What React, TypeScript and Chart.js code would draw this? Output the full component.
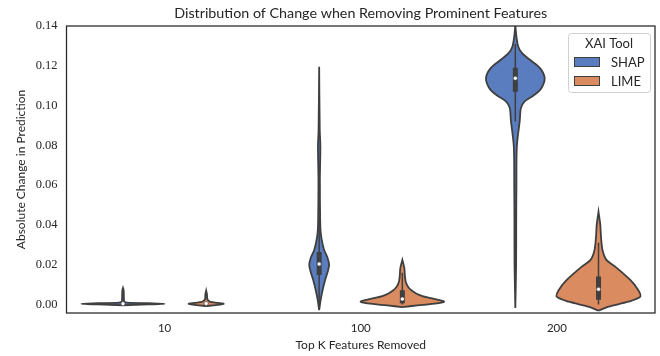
import React, { useEffect, useRef } from 'react';
import { Chart, registerables } from 'chart.js';
Chart.register(...registerables);

// ---------- data ----------
const chartTitle = 'Distribution of Change when Removing Prominent Features';
const categories = ['10', '100', '200'];
const hues = ['SHAP', 'LIME'];
const yTicks = [0, 0.02, 0.04, 0.06, 0.08, 0.1, 0.12, 0.14];

// violin profiles: values (y) and relative density (0..1, 1 = widest violin)
const shap10Y = [-0.0004, 0.0, 0.0003, 0.0006, 0.0009, 0.0015, 0.003, 0.005, 0.0072, 0.0083];
const shap10D = [0, 0.6, 1.0, 0.6, 0.1, 0.03, 0.022, 0.02, 0.015, 0];
const lime10Y = [-0.0008, -0.0003, 0.0003, 0.0008, 0.0013, 0.002, 0.003, 0.005, 0.0069];
const lime10D = [0, 0.24, 0.42, 0.29, 0.1, 0.05, 0.024, 0.02, 0];
const shap100Y = [-0.0028, 0.0023, 0.0073, 0.0123, 0.0163, 0.0198, 0.0234, 0.0274, 0.0314, 0.0364, 0.0425, 0.0626, 0.0796, 0.0877, 0.1195];
const shap100D = [0, 0.036, 0.083, 0.143, 0.202, 0.238, 0.202, 0.119, 0.071, 0.036, 0.024, 0.017, 0.029, 0.014, 0];
const lime100Y = [-0.0013, -0.0005, 0.0005, 0.0014, 0.0023, 0.0035, 0.0048, 0.0068, 0.0088, 0.0113, 0.0148, 0.0183, 0.0224];
const lime100D = [0, 0.36, 0.83, 1.0, 0.86, 0.6, 0.4, 0.24, 0.14, 0.083, 0.06, 0.048, 0];
const shap200Y = [-0.0018, 0.02, 0.04, 0.06, 0.0793, 0.0927, 0.0986, 0.1019, 0.1053, 0.1086, 0.1137, 0.1187, 0.1229, 0.1262, 0.1296, 0.135, 0.1405];
const shap200D = [0, 0.019, 0.021, 0.026, 0.036, 0.107, 0.131, 0.214, 0.452, 0.619, 0.702, 0.595, 0.357, 0.167, 0.071, 0.024, 0];
const lime200Y = [-0.0031, -0.0011, 0.0014, 0.0039, 0.0073, 0.0123, 0.019, 0.0224, 0.0274, 0.034, 0.04, 0.0466];
const lime200D = [0, 0.24, 0.71, 1.0, 0.95, 0.76, 0.4, 0.19, 0.095, 0.06, 0.043, 0];

// box statistics per category
const shapQ1 = [0.0002, 0.0148, 0.107];
const shapMedian = [0.0004, 0.0203, 0.1137];
const shapQ3 = [0.0006, 0.0264, 0.119];
const shapWhiskLo = [0.0, 0.0, 0.092];
const shapWhiskHi = [0.0012, 0.044, 0.131];
const limeQ1 = [0.0003, 0.0006, 0.0023];
const limeMedian = [0.0005, 0.0027, 0.0076];
const limeQ3 = [0.0008, 0.0072, 0.014];
const limeWhiskLo = [0.0, 0.0, 0.0];
const limeWhiskHi = [0.0015, 0.016, 0.031];

// ---------- styles ----------
const FILL = ['#5a7dbf', '#da8b5f'];
const EDGE = '#3f3f3f';
const TEXT = '#262626';
const SANS = 'Lato, "DejaVu Sans", sans-serif';
const SERIF = '"Liberation Serif", serif';
const DODGE = 0.212;
const HALF = 0.213;

const violins = [
  { hue: 0, cat: 0, y: shap10Y, d: shap10D },
  { hue: 1, cat: 0, y: lime10Y, d: lime10D },
  { hue: 0, cat: 1, y: shap100Y, d: shap100D },
  { hue: 1, cat: 1, y: lime100Y, d: lime100D },
  { hue: 0, cat: 2, y: shap200Y, d: shap200D },
  { hue: 1, cat: 2, y: lime200Y, d: lime200D },
];
const boxes = [
  { q1: shapQ1, med: shapMedian, q3: shapQ3, lo: shapWhiskLo, hi: shapWhiskHi },
  { q1: limeQ1, med: limeMedian, q3: limeQ3, lo: limeWhiskLo, hi: limeWhiskHi },
];

const center = (hue: number, cat: number) => cat + (hue === 0 ? -DODGE : DODGE);

function buildDatasets() {
  const ds: any[] = [];
  violins.forEach((v) => {
    const c = center(v.hue, v.cat);
    const pts: { x: number; y: number }[] = [];
    for (let i = 0; i < v.y.length; i++) pts.push({ x: c + v.d[i] * HALF, y: v.y[i] });
    for (let i = v.y.length - 1; i >= 0; i--) pts.push({ x: c - v.d[i] * HALF, y: v.y[i] });
    ds.push({
      label: hues[v.hue],
      data: pts,
      borderColor: EDGE,
      backgroundColor: FILL[v.hue],
      borderWidth: 1.8,
      fill: 'shape',
      tension: 0.3,
      pointRadius: 0,
      order: 3,
    });
  });
  boxes.forEach((b, hue) => {
    categories.forEach((_, cat) => {
      const c = center(hue, cat);
      ds.push({
        data: [{ x: c, y: b.lo[cat] }, { x: c, y: b.hi[cat] }],
        borderColor: EDGE, borderWidth: 1.5, pointRadius: 0, fill: false, order: 2, tension: 0,
      });
      ds.push({
        data: [{ x: c, y: b.q1[cat] }, { x: c, y: b.q3[cat] }],
        borderColor: EDGE, borderWidth: 5, borderCapStyle: 'butt', pointRadius: 0, fill: false, order: 1, tension: 0,
      });
      ds.push({
        data: [{ x: c, y: b.med[cat] }],
        showLine: false, pointRadius: 2, pointBorderWidth: 0.5, pointBorderColor: EDGE,
        pointBackgroundColor: '#ffffff', order: 0,
      });
    });
  });
  return ds;
}

const framePlugin = {
  id: 'frame',
  afterDatasetsDraw(chart: any) {
    const { ctx, chartArea: a } = chart;
    ctx.save();
    ctx.strokeStyle = TEXT;
    ctx.lineWidth = 1.25;
    ctx.strokeRect(a.left, a.top, a.right - a.left, a.bottom - a.top);
    ctx.restore();
  },
  afterDraw(chart: any) {
    const { ctx, chartArea: a } = chart;
    ctx.save();
    // title centred over the plot area
    ctx.fillStyle = TEXT;
    ctx.font = '14.3px ' + SANS;
    ctx.textAlign = 'center';
    ctx.textBaseline = 'middle';
    ctx.fillText(chartTitle, (a.left + a.right) / 2, 13);
    // legend
    const bx = a.right - 87, by = a.top + 7, bw = 82, bh = 59;
    ctx.fillStyle = 'rgba(255,255,255,0.85)';
    ctx.strokeStyle = '#d0d0d0';
    ctx.lineWidth = 1;
    ctx.beginPath();
    ctx.roundRect(bx + 0.5, by + 0.5, bw, bh, 3);
    ctx.fill();
    ctx.stroke();
    ctx.fillStyle = TEXT;
    ctx.font = '13px ' + SANS;
    ctx.textBaseline = 'middle';
    ctx.textAlign = 'center';
    ctx.fillText('XAI Tool', bx + bw / 2, by + 11);
    ctx.textAlign = 'left';
    hues.forEach((h, i) => {
      const ry = by + 24 + i * 19;
      ctx.fillStyle = FILL[i];
      ctx.fillRect(bx + 6, ry, 26, 10);
      ctx.strokeStyle = EDGE;
      ctx.lineWidth = 1;
      ctx.strokeRect(bx + 6.5, ry + 0.5, 25, 9);
      ctx.fillStyle = TEXT;
      ctx.fillText(h, bx + 43, ry + 5.5);
    });
    ctx.restore();
  },
};

export default function App() {
  const ref = useRef<HTMLCanvasElement>(null);
  useEffect(() => {
    document.body.style.margin = '0';
    const chart = new Chart(ref.current!, {
      type: 'line',
      data: { datasets: buildDatasets() },
      options: {
        animation: false,
        responsive: true,
        maintainAspectRatio: false,
        events: [],
        layout: { padding: { right: 5, left: 0, bottom: 0, top: 26 } },
        plugins: {
          legend: { display: false },
          tooltip: { enabled: false },
          title: { display: false },
        },
        scales: {
          x: {
            type: 'linear',
            min: -0.5,
            max: 2.5,
            grid: { display: false, drawTicks: false },
            border: { display: false },
            afterBuildTicks: (s: any) => { s.ticks = categories.map((_, i) => ({ value: i })); },
            ticks: {
              color: TEXT,
              font: { family: SANS, size: 11.5 },
              padding: 8,
              callback: (v: any) => categories[v as number],
            },
            title: {
              display: true,
              text: 'Top K Features Removed',
              color: TEXT,
              font: { family: SANS, size: 12 },
              padding: { top: 4, bottom: 4 },
            },
            afterFit: (s: any) => { s.height = 43; },
          },
          y: {
            type: 'linear',
            min: -0.0043,
            max: 0.14,
            grid: { display: false, drawTicks: false },
            border: { display: false },
            afterBuildTicks: (s: any) => { s.ticks = yTicks.map((v) => ({ value: v })); },
            ticks: {
              color: TEXT,
              font: { family: SERIF, size: 12.5 },
              padding: 9,
              callback: (v: any) => Number(v).toFixed(2),
            },
            title: {
              display: true,
              text: 'Absolute Change in Prediction',
              color: TEXT,
              font: { family: SANS, size: 12 },
              padding: { top: 14, bottom: 0 },
            },
            afterFit: (s: any) => { s.width = 66.5; },
          },
        },
      },
      plugins: [framePlugin],
    });
    return () => chart.destroy();
  }, []);
  return (
    <div style={{ position: 'fixed', left: 0, top: 0, width: 660, height: 356, background: '#fff' }}>
      <canvas ref={ref} />
    </div>
  );
}
